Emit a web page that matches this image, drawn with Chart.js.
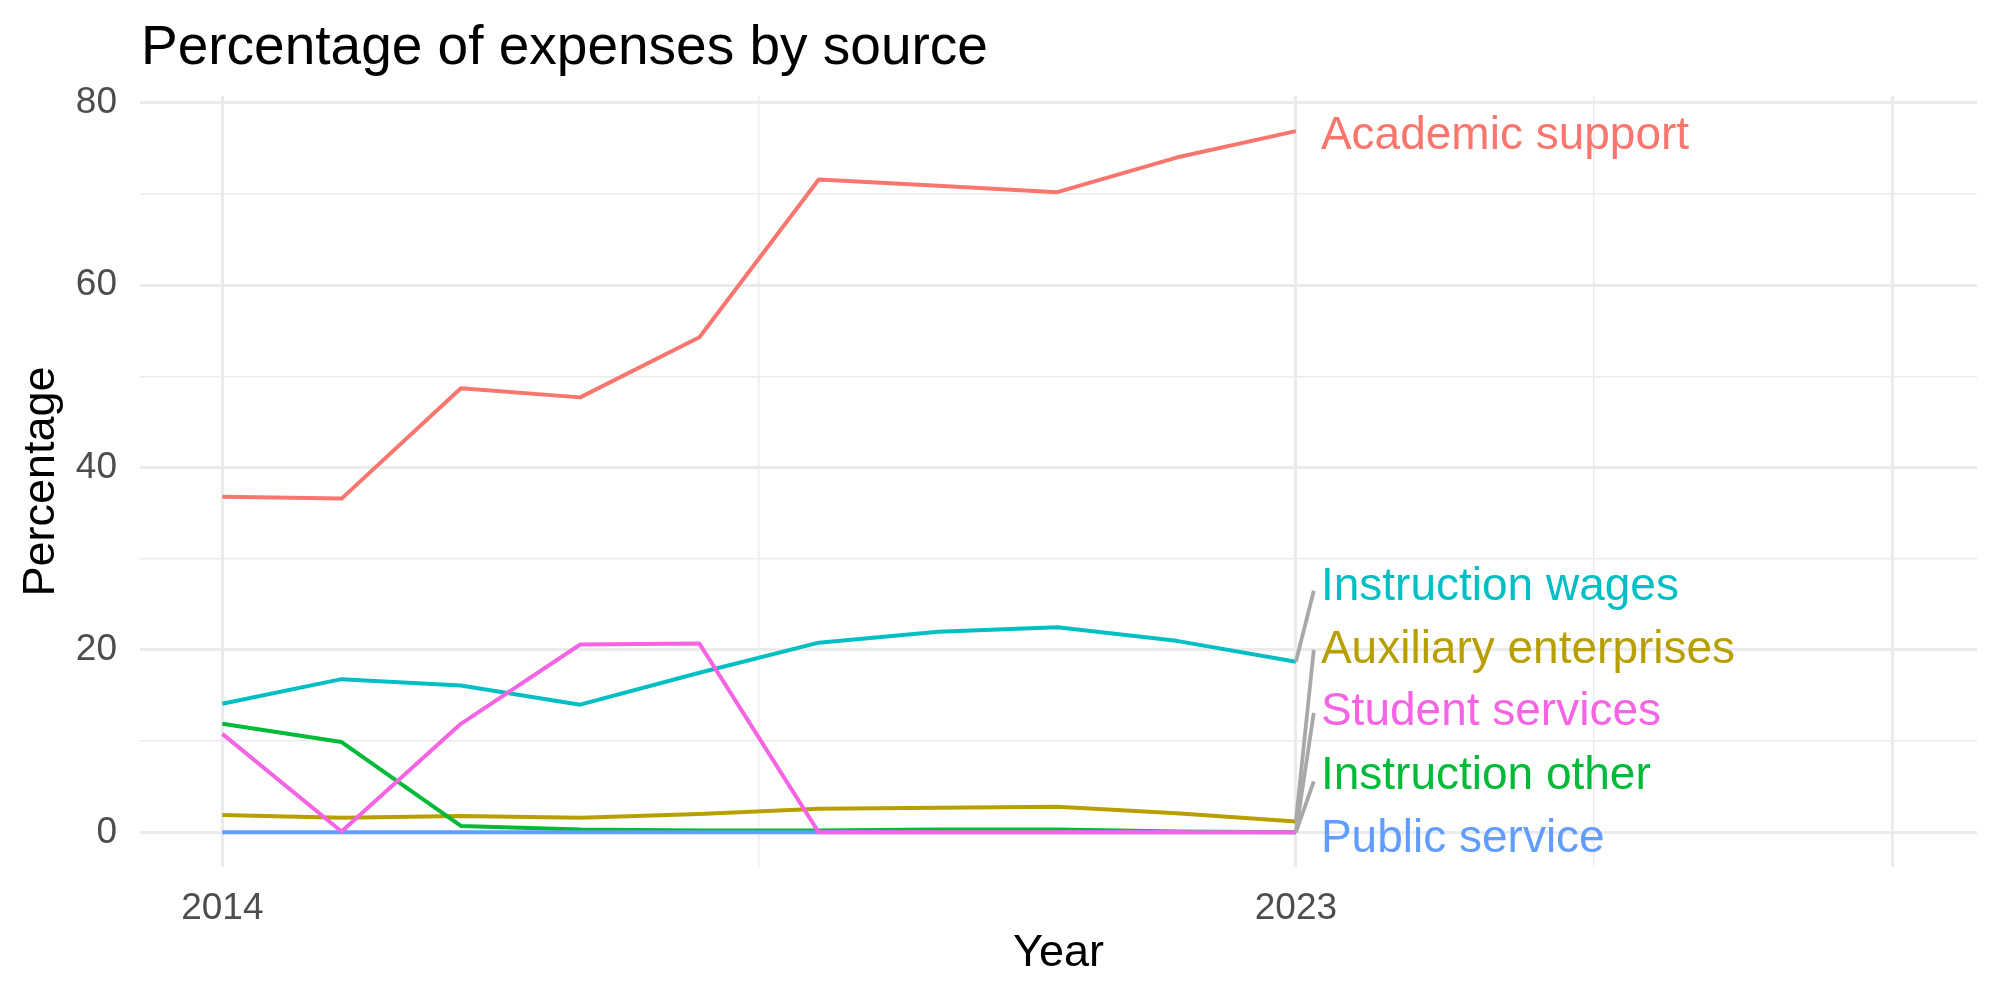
<!DOCTYPE html>
<html>
<head>
<meta charset="utf-8">
<script src="https://cdn.jsdelivr.net/npm/chart.js@4.4.0/dist/chart.umd.min.js"></script>
<style>
html,body{margin:0;padding:0;background:#fff;}
#wrap{width:2000px;height:1000px;}
</style>
</head>
<body>
<div id="wrap"><canvas id="c" width="2000" height="1000"></canvas></div>
<script>
const years = [2014, 2015, 2016, 2017, 2018, 2019, 2020, 2021, 2022, 2023];
const academicSupport = [36.8, 36.6, 48.7, 47.7, 54.3, 71.6, 70.9, 70.2, 74.0, 76.9];
const auxiliaryEnterprises = [1.9, 1.6, 1.8, 1.6, 2.0, 2.6, 2.7, 2.8, 2.1, 1.2];
const instructionOther = [11.9, 9.9, 0.7, 0.3, 0.2, 0.2, 0.3, 0.3, 0.1, 0.0];
const instructionWages = [14.1, 16.8, 16.1, 14.0, 17.5, 20.8, 22.0, 22.5, 21.0, 18.7];
const publicService = [0, 0, 0, 0, 0, 0, 0, 0, 0, 0];
const studentServices = [10.8, 0.1, 11.9, 20.6, 20.7, 0, 0, 0, 0, 0];

const seriesNames = ["Academic support", "Auxiliary enterprises", "Instruction other", "Instruction wages", "Public service", "Student services"];
const seriesColors = ["#F8766D", "#B79F00", "#00BA38", "#00BFC4", "#619CFF", "#F564E3"];
const seriesValues = [academicSupport, auxiliaryEnterprises, instructionOther, instructionWages, publicService, studentServices];

// repelled label positions (data units)
const labelX = 2023.21;
const labelY = [76.7, 20.3, 6.5, 27.2, -0.35, 13.5];
const segmentEndX = 2023.15;
const segmentEndY = [null, 20.0, 5.6, 26.5, null, 13.1];

const xMajorTicks = [2014, 2023, 2028];
const xMinorTicks = [2018.5, 2025.5];
const xTickLabels = {2014: "2014", 2023: "2023"};
const yTicks = [0, 10, 20, 30, 40, 50, 60, 70, 80];
const yTickLabels = {0: "0", 20: "20", 40: "40", 60: "60", 80: "80"};

const FONT = "'Liberation Sans', Arial, Helvetica, sans-serif";

const datasets = [];
seriesNames.forEach((n, i) => {
  if (segmentEndY[i] === null) return;
  const last = seriesValues[i][seriesValues[i].length - 1];
  datasets.push({
    label: n + " segment",
    data: [{x: years[years.length - 1], y: last}, {x: segmentEndX, y: segmentEndY[i]}],
    borderColor: "#A8A8A8",
    borderWidth: 3.8,
    pointRadius: 0,
    tension: 0,
    fill: false
  });
});
for (let i = seriesNames.length - 1; i >= 0; i--) {
  datasets.push({
    label: seriesNames[i],
    data: years.map((y, k) => ({x: y, y: seriesValues[i][k]})),
    borderColor: seriesColors[i],
    borderWidth: 4,
    pointRadius: 0,
    tension: 0,
    fill: false,
    borderJoinStyle: "round"
  });
}

const textPlugin = {
  id: "textPlugin",
  afterDraw(chart) {
    const ctx = chart.ctx;
    const xs = chart.scales.x, ys = chart.scales.y;
    ctx.save();
    ctx.fillStyle = "#000";
    ctx.font = "55px " + FONT;
    ctx.textAlign = "left";
    ctx.textBaseline = "alphabetic";
    ctx.fillText("Percentage of expenses by source", 141, 64);
    ctx.font = "46px " + FONT;
    seriesNames.forEach((n, i) => {
      ctx.fillStyle = seriesColors[i];
      const px = xs.getPixelForValue(labelX);
      const py = ys.getPixelForValue(labelY[i]);
      ctx.fillText(n, px, py + 16);
    });
    ctx.restore();
  }
};

new Chart(document.getElementById("c"), {
  type: "line",
  data: {datasets},
  plugins: [textPlugin],
  options: {
    responsive: false,
    animation: false,
    devicePixelRatio: 1,
    layout: {padding: {left: 0, right: 23, top: 96, bottom: 0}},
    plugins: {legend: {display: false}, tooltip: {enabled: false}, title: {display: false}},
    scales: {
      x: {
        type: "linear",
        min: 2013.31,
        max: 2028.71,
        afterBuildTicks: s => { s.ticks = [...xMajorTicks, ...xMinorTicks].sort((a, b) => a - b).map(v => ({value: v})); },
        afterFit: s => { s.height = 133; },
        ticks: {
          autoSkip: false, maxRotation: 0, padding: 20,
          color: "#4D4D4D", font: {family: FONT, size: 37},
          callback: v => xTickLabels[v] || ""
        },
        grid: {
          drawTicks: false,
          color: "#EBEBEB",
          lineWidth: c => (c.tick && xMajorTicks.includes(c.tick.value)) ? 3 : 1.5
        },
        border: {display: false},
        title: {display: true, text: "Year", color: "#000", font: {family: FONT, size: 45}, padding: {top: 0, bottom: 19}}
      },
      y: {
        type: "linear",
        min: -3.8,
        max: 80.75,
        afterBuildTicks: s => { s.ticks = yTicks.map(v => ({value: v})); },
        afterFit: s => { s.width = 140; },
        ticks: {
          autoSkip: false, padding: 23,
          color: "#4D4D4D", font: {family: FONT, size: 37},
          callback: v => (yTickLabels[v] !== undefined ? yTickLabels[v] : "")
        },
        grid: {
          drawTicks: false,
          color: "#EBEBEB",
          lineWidth: c => (c.tick && c.tick.value % 20 === 0) ? 3 : 1.5
        },
        border: {display: false},
        title: {display: true, text: "Percentage", color: "#000", font: {family: FONT, size: 45}, padding: {top: 15, bottom: 0}}
      }
    }
  }
});
</script>
</body>
</html>
